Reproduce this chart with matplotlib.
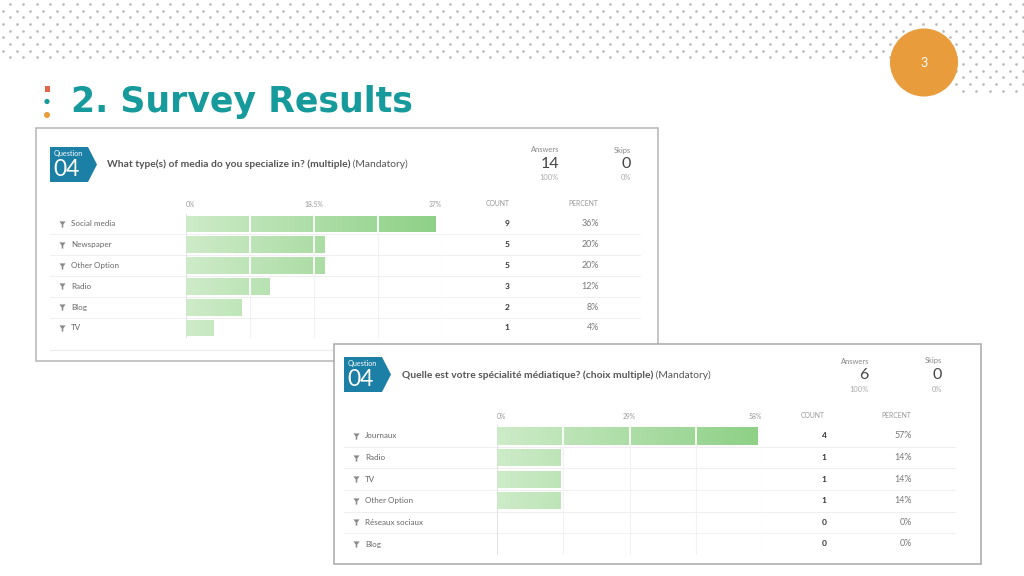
import numpy as np
import matplotlib
matplotlib.use("Agg")
import matplotlib.pyplot as plt
from matplotlib.patches import Rectangle, Polygon, Circle
from matplotlib.colors import LinearSegmentedColormap
from matplotlib.path import Path
import matplotlib.transforms as mtrans

# ---------------- data ----------------
q1_title = "What type(s) of media do you specialize in? (multiple)"
q1_categories = ["Social media", "Newspaper", "Other Option", "Radio", "Blog", "TV"]
q1_counts = [9, 5, 5, 3, 2, 1]
q1_percents = [36, 20, 20, 12, 8, 4]
q1_axis_max = 37
q1_tick_labels = ["0%", "18.5%", "37%"]
q1_answers = 14
q1_skips = 0

q2_title = "Quelle est votre spécialité médiatique? (choix multiple)"
q2_categories = ["Journaux", "Radio", "TV", "Other Option", "Réseaux sociaux", "Blog"]
q2_counts = [4, 1, 1, 1, 0, 0]
q2_percents = [57, 14, 14, 14, 0, 0]
q2_axis_max = 58
q2_tick_labels = ["0%", "29%", "58%"]
q2_answers = 6
q2_skips = 0

# ---------------- styling ----------------
W, H = 1024, 576
FONT = "Lato"
TEAL_TITLE = "#169a9b"
BADGE = "#1c7fa6"
ORANGE = "#e99c3b"
GREY_TXT = "#999999"
cmap = LinearSegmentedColormap.from_list("g", ["#cdebc8", "#8dd085"])

fig = plt.figure(figsize=(W / 100, H / 100), dpi=100)
fig.patch.set_facecolor("white")


def px_rect(x0, y0, x1, y1):
    return [x0 / W, 1 - y1 / H, (x1 - x0) / W, (y1 - y0) / H]


def overlay(z):
    ax = fig.add_axes([0, 0, 1, 1], zorder=z)
    ax.set_xlim(0, W)
    ax.set_ylim(H, 0)
    ax.axis("off")
    ax.patch.set_alpha(0)
    return ax


funnel = Path([(-1, 1), (1, 1), (0.25, 0), (0.25, -1), (-0.25, -1), (-0.25, 0), (-1, 1)],
              [Path.MOVETO] + [Path.LINETO] * 5 + [Path.CLOSEPOLY])

# ---------------- background decoration ----------------
bg = overlay(0)
dx, dy = 13.33, 6.67
xs, ys = [], []
for k in range(14):
    yy = 4 + dy * k
    off = 10 if k % 2 == 0 else 3.33
    for j in range(80):
        xx = off + dx * j
        if xx > W:
            break
        if k <= 8 or xx >= 952:
            xs.append(xx)
            ys.append(yy)
bg.scatter(xs, ys, s=3.6, color="#b8b8b8", linewidths=0, zorder=1)
bg.add_patch(Circle((924, 62.5), 34, facecolor=ORANGE, edgecolor="none", zorder=3))
bg.text(924, 63, "3", color="white", fontsize=9, ha="center", va="center", family=FONT, zorder=4)

bg.add_patch(Rectangle((44.5, 85.5), 5, 6, facecolor="#e2664b", edgecolor="none"))
bg.add_patch(Circle((47, 101.5), 2.6, facecolor=TEAL_TITLE, edgecolor="none"))
bg.add_patch(Circle((47, 115), 3.0, facecolor=ORANGE, edgecolor="none"))
bg.text(71, 112, "2. Survey Results", color=TEAL_TITLE, fontsize=25, fontweight="bold",
        family="DejaVu Sans", ha="left", va="baseline")


def panel(box, badge_xy, qtext, qx, qy, ans, skip, ans_x, skip_x, hdr_y,
          ax_x0, ax_x1, row_top, row_bot, cats, counts, pcts, axmax, ticklabels,
          icon_x, label_x, count_x, pct_x, count_hdr_x, pct_hdr_x, sep_x0, sep_x1,
          z, border_col, bottom_line=None):
    ov = overlay(z)
    x0, y0, x1, y1 = box
    ov.add_patch(Rectangle((x0, y0), x1 - x0, y1 - y0, facecolor="white",
                           edgecolor=border_col, lw=1.1, zorder=1))
    # badge
    bx, by = badge_xy
    ov.add_patch(Polygon([(bx, by), (bx + 38, by), (bx + 47, by + 17.5), (bx + 38, by + 35), (bx, by + 35)],
                         closed=True, facecolor=BADGE, edgecolor="none", zorder=2))
    ov.text(bx + 4, by + 6.5, "Question", color="white", fontsize=5.2, family=FONT, va="center", zorder=3)
    ov.text(bx + 3, by + 23, "04", color="white", fontsize=16.5, family=FONT, va="center", zorder=3)
    # question
    t = ov.text(qx, qy, qtext, color="#555555", fontsize=7.4, fontweight="bold",
                family=FONT, va="center", ha="left", zorder=3)
    ov.annotate(" (Mandatory)", xy=(1, 0.5), xycoords=t, color="#555555", fontsize=7.4,
                family=FONT, va="center", ha="left", zorder=3)
    # answers / skips
    for xx, lab, num, pc in [(ans_x, "Answers", ans, "100%"), (skip_x, "Skips", skip, "0%")]:
        ov.text(xx, qy - 14, lab, color="#888888", fontsize=5.4, family=FONT, ha="right", va="center", zorder=3)
        ov.text(xx, qy, str(num), color="#444444", fontsize=11.5, family=FONT, ha="right", va="center", zorder=3)
        ov.text(xx, qy + 14, pc, color="#aaaaaa", fontsize=5.4, family=FONT, ha="right", va="center", zorder=3)
    ov.text(count_hdr_x, hdr_y, "COUNT", color=GREY_TXT, fontsize=4.9, family=FONT, ha="center", va="center", zorder=3)
    ov.text(pct_hdr_x, hdr_y, "PERCENT", color=GREY_TXT, fontsize=4.9, family=FONT, ha="center", va="center", zorder=3)
    if bottom_line is not None:
        ov.plot([sep_x0, sep_x1], [bottom_line, bottom_line], color="#ebebeb", lw=0.8, zorder=2)

    # bar axes
    ax = fig.add_axes(px_rect(ax_x0, row_top, ax_x1, row_bot), zorder=z + 0.5)
    ax.patch.set_alpha(0)
    n = len(cats)
    ypos = np.arange(n)
    h = 0.8
    quarters = [axmax * q / 4 for q in range(1, 4)]
    for q in quarters + [axmax]:
        ax.axvline(q, color="#f1f1f1", lw=0.8, zorder=0)
    ax.axvline(0, color="#e2e2e2", lw=0.8, zorder=0)
    bars = ax.barh(ypos, pcts, height=h, color="none", edgecolor="none", zorder=2)
    grad = np.linspace(0, 1, 256).reshape(1, -1)
    for b, v, yv in zip(bars, pcts, ypos):
        if v <= 0:
            continue
        im = ax.imshow(grad, extent=[0, axmax, yv + h / 2, yv - h / 2], cmap=cmap, vmin=0, vmax=1,
                       aspect="auto", zorder=2, interpolation="bilinear")
        im.set_clip_path(b)
        for q in quarters:
            if q < v:
                ax.plot([q, q], [yv - h / 2, yv + h / 2], color="white", lw=1.3, zorder=3)
    ax.set_xlim(0, axmax)
    ax.set_ylim(n - 0.5, -0.5)
    for s in ax.spines.values():
        s.set_visible(False)
    ax.set_yticks([])
    ax.xaxis.tick_top()
    ax.set_xticks([0, axmax / 2, axmax])
    ax.set_xticklabels(ticklabels, fontsize=4.9, color=GREY_TXT, family=FONT)
    ax.tick_params(axis="x", length=0, pad=4)
    tl = ax.get_xticklabels()
    tl[0].set_ha("left")
    tl[-1].set_ha("right")

    tr = mtrans.blended_transform_factory(ov.transData, ax.transData)
    for i, (c, cnt, p) in enumerate(zip(cats, counts, pcts)):
        ov.scatter([icon_x], [i], marker=funnel, s=20, color="#8a8a8a", linewidths=0,
                   transform=tr, zorder=3)
        ov.text(label_x, i, c, color="#666666", fontsize=5.8, family=FONT, va="center", ha="left",
                transform=tr, zorder=3)
        ov.text(count_x, i, str(cnt), color="#333333", fontsize=6.0, fontweight="bold", family=FONT,
                va="center", ha="center", transform=tr, zorder=3)
        ov.text(pct_x, i, f"{p}%", color="#777777", fontsize=6.4, family=FONT,
                va="center", ha="right", transform=tr, zorder=3)
        if i < n - 1:
            ov.plot([sep_x0, sep_x1], [i + 0.5, i + 0.5], color="#efefef", lw=0.7,
                    transform=tr, zorder=2)
    return ov, ax


panel(box=(36, 128, 658, 361), badge_xy=(50, 147), qtext=q1_title, qx=107, qy=164,
      ans=q1_answers, skip=q1_skips, ans_x=559, skip_x=631, hdr_y=204,
      ax_x0=186, ax_x1=442, row_top=213.6, row_bot=338.4,
      cats=q1_categories, counts=q1_counts, pcts=q1_percents, axmax=q1_axis_max,
      ticklabels=q1_tick_labels, icon_x=62, label_x=71, count_x=507, pct_x=599,
      count_hdr_x=498, pct_hdr_x=583, sep_x0=50, sep_x1=640, z=1,
      border_col="#b5b5b5", bottom_line=350)

panel(box=(334, 344, 981, 564), badge_xy=(344, 357), qtext=q2_title, qx=402, qy=375,
      ans=q2_answers, skip=q2_skips, ans_x=869, skip_x=942, hdr_y=416,
      ax_x0=497, ax_x1=762, row_top=425.2, row_bot=554.8,
      cats=q2_categories, counts=q2_counts, pcts=q2_percents, axmax=q2_axis_max,
      ticklabels=q2_tick_labels, icon_x=356, label_x=365, count_x=824, pct_x=912,
      count_hdr_x=813, pct_hdr_x=896, sep_x0=344, sep_x1=955, z=3,
      border_col="#a8a8a8")

fig.savefig("out.png", dpi=100, facecolor="white")
